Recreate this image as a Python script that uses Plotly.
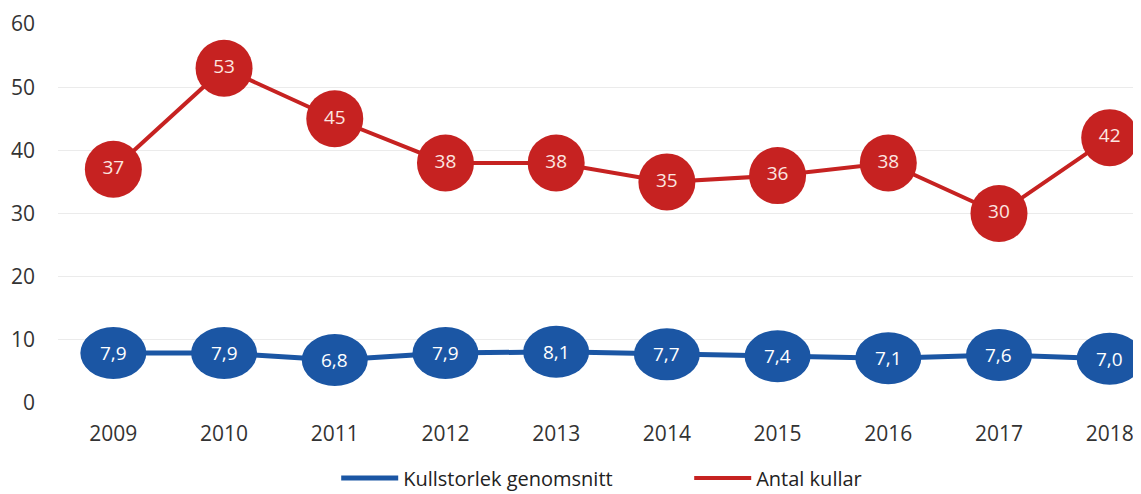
import plotly.graph_objects as go

years = ["2009", "2010", "2011", "2012", "2013", "2014", "2015", "2016", "2017", "2018"]
kullstorlek = [7.9, 7.9, 6.8, 7.9, 8.1, 7.7, 7.4, 7.1, 7.6, 7.0]
antal_kullar = [37, 53, 45, 38, 38, 35, 36, 38, 30, 42]
y_ticks = [0, 10, 20, 30, 40, 50, 60]

BLUE = "#1B56A4"
RED = "#C62221"
FONT = "Open Sans"
xs = list(range(len(years)))

fig = go.Figure()

fig.add_trace(go.Scatter(
    x=xs, y=kullstorlek, mode="lines",
    line=dict(color=BLUE, width=5),
    name="Kullstorlek genomsnitt",
))
fig.add_trace(go.Scatter(
    x=xs, y=antal_kullar, mode="lines",
    line=dict(color=RED, width=4),
    name="Antal kullar",
))
fig.add_trace(go.Scatter(
    x=xs, y=antal_kullar, mode="markers+text",
    marker=dict(size=57, color=RED, line=dict(width=0)),
    text=[str(v) for v in antal_kullar], textposition="middle center",
    textfont=dict(color="#FCE6E0", size=19, family=FONT),
    showlegend=False, hoverinfo="skip",
))

# ellipse markers for the blue series
for i, v in enumerate(kullstorlek):
    fig.add_shape(
        type="circle", xref="x", yref="y",
        xsizemode="pixel", ysizemode="pixel",
        xanchor=i, yanchor=v,
        x0=-33, x1=33, y0=-26, y1=26,
        fillcolor=BLUE, line=dict(width=0), layer="above",
    )
    fig.add_annotation(
        x=i, y=v, xref="x", yref="y", showarrow=False,
        text=f"{v:.1f}".replace(".", ","),
        font=dict(color="white", size=19, family=FONT),
    )

fig.update_layout(
    width=1141, height=494,
    margin=dict(l=50, r=0, t=16, b=99),
    paper_bgcolor="white", plot_bgcolor="white",
    font=dict(family=FONT, size=21, color="#333333"),
    showlegend=True,
    legend=dict(orientation="h", x=0.255, xanchor="left", y=-0.198, yanchor="middle",
                font=dict(size=20, color="#222222"), itemwidth=57,
                entrywidth=281, entrywidthmode="pixels"),
    xaxis=dict(
        range=[-0.5, 9.355], tickmode="array",
        tickvals=xs, ticktext=years,
        showgrid=False, zeroline=False, showline=False, ticks="",
        ticklabelstandoff=16,
    ),
    yaxis=dict(
        range=[0, 60], tickvals=y_ticks, showgrid=True, gridcolor="#EBEBEB",
        gridwidth=1, zeroline=False, showline=False, ticks="",
        ticklabelstandoff=22,
    ),
)

fig.write_html("out.html")
